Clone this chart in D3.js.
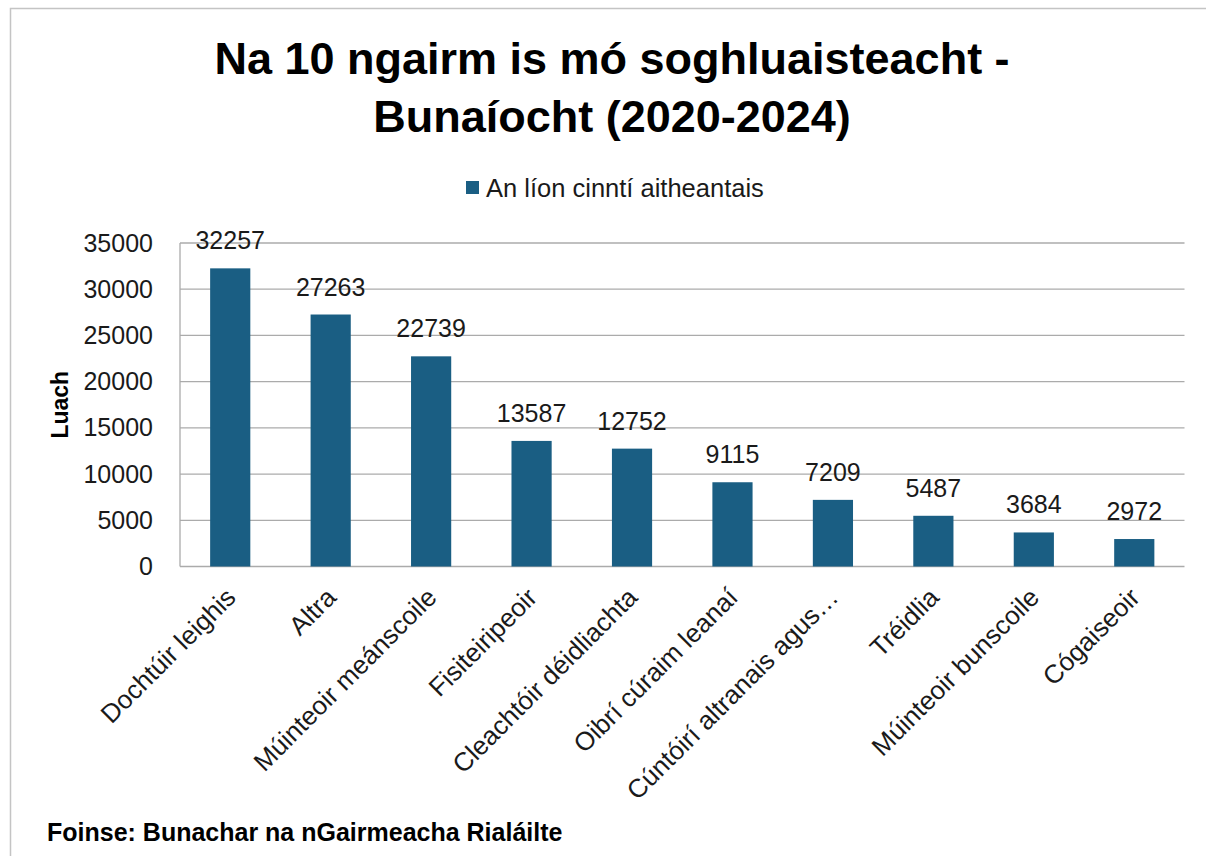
<!DOCTYPE html>
<html>
<head>
<meta charset="utf-8">
<script src="https://cdn.jsdelivr.net/npm/d3@7"></script>
<style>
  body { margin: 0; background: #fff; }
  svg { display: block; }
</style>
</head>
<body>
<div id="canvas"></div>
<script>
// DATA
const categories = [
  "Dochtúir leighis", "Altra", "Múinteoir meánscoile", "Fisiteiripeoir",
  "Cleachtóir déidliachta", "Oibrí cúraim leanaí", "Cúntóirí altranais agus…",
  "Tréidlia", "Múinteoir bunscoile", "Cógaiseoir"
];
const values = [32257, 27263, 22739, 13587, 12752, 9115, 7209, 5487, 3684, 2972];
const yTicks = [0, 5000, 10000, 15000, 20000, 25000, 30000, 35000];
const titleLines = ["Na 10 ngairm is mó soghluaisteacht -", "Bunaíocht (2020-2024)"];
const seriesName = "An líon cinntí aitheantais";
const yTitle = "Luach";
const source = "Foinse: Bunachar na nGairmeacha Rialáilte";

// DIMENSIONS
const width = 1206;
const height = 856;
const margin = { top: 243, right: 21.5, bottom: 289.5, left: 180 };
const barColor = "#1a5e83";
const gridColor = "#ababab";
const font = "'Liberation Sans', Arial, sans-serif";

// CANVAS
const canvas = d3.select("#canvas")
  .append("svg")
  .attr("width", width)
  .attr("height", height)
  .style("font-family", font);

// frame
canvas.append("path")
  .attr("d", `M10.5,${height} V8.5 H${width}`)
  .attr("fill", "none")
  .attr("stroke", "#c4c4c4")
  .attr("stroke-width", 1.5);

// SCALES
const x = d3.scaleBand()
  .domain(categories)
  .range([margin.left, width - margin.right])
  .paddingInner(0.6)
  .paddingOuter(0.3);

const y = d3.scaleLinear()
  .domain([0, 35000])
  .range([height - margin.bottom, margin.top]);

// GRID
canvas.append("g")
  .selectAll("line")
  .data(yTicks)
  .join("line")
  .attr("x1", margin.left)
  .attr("x2", width - margin.right)
  .attr("y1", d => y(d))
  .attr("y2", d => y(d))
  .attr("stroke", gridColor)
  .attr("stroke-width", 1.3);

canvas.append("line")
  .attr("x1", margin.left).attr("x2", margin.left)
  .attr("y1", y(35000)).attr("y2", y(0))
  .attr("stroke", gridColor)
  .attr("stroke-width", 1.3);

// Y AXIS
const yAxis = canvas.append("g")
  .attr("transform", `translate(${margin.left},0)`)
  .call(d3.axisLeft(y).tickValues(yTicks).tickSize(0).tickPadding(27).tickFormat(d3.format("d")));
yAxis.select(".domain").remove();
yAxis.selectAll("text")
  .style("font-family", font)
  .style("font-size", "25px")
  .attr("fill", "#1a1a1a");

// BARS
canvas.append("g")
  .selectAll("rect")
  .data(values)
  .join("rect")
  .attr("x", (d, i) => x(categories[i]))
  .attr("width", x.bandwidth())
  .attr("y", d => y(d))
  .attr("height", d => y(0) - y(d))
  .attr("fill", barColor);

// VALUE LABELS
canvas.append("g")
  .selectAll("text")
  .data(values)
  .join("text")
  .attr("x", (d, i) => x(categories[i]) + x.bandwidth() / 2)
  .attr("y", d => y(d) - 19)
  .attr("text-anchor", "middle")
  .style("font-size", "25px")
  .attr("fill", "#1a1a1a")
  .text(d => d);

// X LABELS
canvas.append("g")
  .selectAll("text")
  .data(categories)
  .join("text")
  .attr("transform", d => `translate(${x(d) + x.bandwidth() / 2 + 7},599) rotate(-45)`)
  .attr("text-anchor", "end")
  .style("font-size", "26px")
  .attr("fill", "#1a1a1a")
  .text(d => d);

// AXIS TITLE
canvas.append("text")
  .attr("transform", `translate(68,${(y(0) + y(35000)) / 2}) rotate(-90)`)
  .attr("text-anchor", "middle")
  .style("font-size", "23px")
  .style("font-weight", "bold")
  .text(yTitle);

// TITLE
canvas.append("g")
  .selectAll("text")
  .data(titleLines)
  .join("text")
  .attr("x", 612)
  .attr("y", (d, i) => 74 + i * 58)
  .attr("text-anchor", "middle")
  .style("font-size", "45px")
  .style("font-weight", "bold")
  .text(d => d);

// LEGEND
const legend = canvas.append("g");
legend.append("rect")
  .attr("x", 466).attr("y", 181)
  .attr("width", 13).attr("height", 13)
  .attr("fill", barColor);
legend.append("text")
  .attr("x", 486).attr("y", 197)
  .style("font-size", "25.5px")
  .attr("fill", "#1a1a1a")
  .text(seriesName);

// SOURCE
canvas.append("text")
  .attr("x", 47).attr("y", 841)
  .style("font-size", "25px")
  .style("font-weight", "bold")
  .text(source);
</script>
</body>
</html>
